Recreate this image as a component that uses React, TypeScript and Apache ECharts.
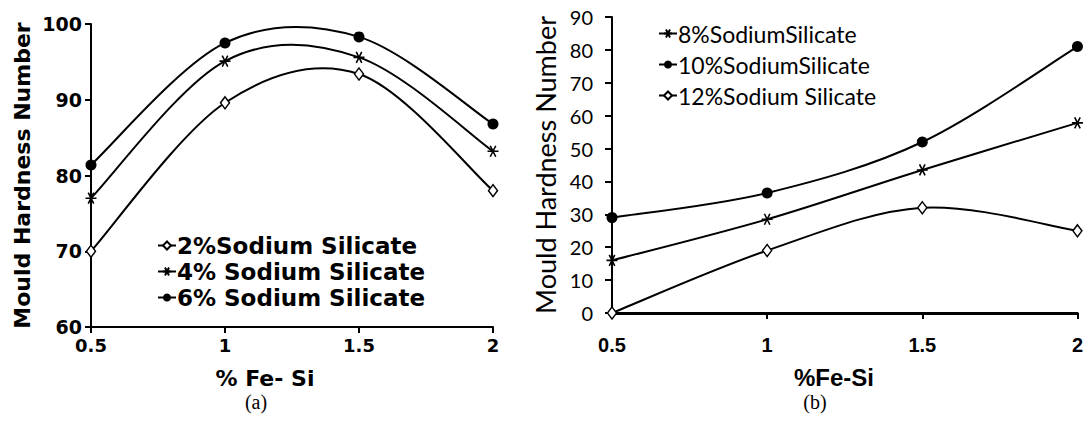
import React, { useEffect, useRef } from "react";
import * as echarts from "echarts";

const xValues = [0.5, 1, 1.5, 2];

const leftNames = ["2%Sodium Silicate", "4% Sodium Silicate", "6% Sodium Silicate"];
const left2 = [70, 89.6, 93.4, 78];
const left4 = [77, 95.1, 95.6, 83.2];
const left6 = [81.4, 97.5, 98.3, 86.8];

const rightNames = ["8%SodiumSilicate", "10%SodiumSilicate", "12%Sodium Silicate"];
const right8 = [16, 28.5, 43.5, 57.8];
const right10 = [29, 36.5, 52, 81];
const right12 = [0, 19, 32, 25];

const xTicks = ["0.5", "1", "1.5", "2"];

const STAR = "path://M-10,0L10,0M-5,-8.66L5,8.66M-5,8.66L5,-8.66";

const pairs = (ys: number[]) => xValues.map((x, i) => [x, ys[i]]);

const styles: Record<string, any> = {
  diamond: { symbol: "diamond", symbolSize: [9, 12], itemStyle: { color: "#fff", borderColor: "#000", borderWidth: 1.5 } },
  star: { symbol: STAR, symbolSize: 11, itemStyle: { color: "#000", borderColor: "#000", borderWidth: 1.6 } },
  circle: { symbol: "circle", symbolSize: 11, itemStyle: { color: "#000", borderColor: "#000", borderWidth: 0 } },
};

// marker + legend series (its own line hidden; the smooth curve is drawn by the custom series)
function mk(name: string, ys: number[], kind: string, idx: number) {
  return {
    name,
    type: "line",
    xAxisIndex: idx,
    yAxisIndex: idx,
    data: pairs(ys),
    showSymbol: true,
    z: 5,
    lineStyle: { color: "#000", width: 2, opacity: 0 },
    ...styles[kind],
  };
}

// Excel-like smoothed curve (Catmull-Rom through the data points, in pixel space)
function curve(ys: number[], idx: number, key: string) {
  const data = pairs(ys);
  return {
    name: key,
    type: "custom",
    coordinateSystem: "cartesian2d",
    xAxisIndex: idx,
    yAxisIndex: idx,
    data,
    encode: { x: 0, y: 1 },
    silent: true,
    z: 3,
    renderItem: (params: any, api: any) => {
      if (params.dataIndex !== 0) return null;
      const p = data.map((d) => api.coord(d));
      let d = `M${p[0][0]},${p[0][1]}`;
      for (let i = 0; i < p.length - 1; i++) {
        const p0 = p[i - 1] || p[i];
        const p1 = p[i];
        const p2 = p[i + 1];
        const p3 = p[i + 2] || p[i + 1];
        const c1x = p1[0] + (p2[0] - p0[0]) / 6;
        const c1y = p1[1] + (p2[1] - p0[1]) / 6;
        const c2x = p2[0] - (p3[0] - p1[0]) / 6;
        const c2y = p2[1] - (p3[1] - p1[1]) / 6;
        d += ` C${c1x},${c1y} ${c2x},${c2y} ${p2[0]},${p2[1]}`;
      }
      return {
        type: "path",
        shape: { pathData: d },
        style: { stroke: "#000", lineWidth: 2, fill: "none" },
      };
    },
  };
}

export default function App() {
  const ref = useRef<HTMLDivElement>(null);
  useEffect(() => {
    document.body.style.margin = "0";
    const chart = echarts.init(ref.current!, null, { renderer: "svg" });
    const boldL = { fontFamily: "DejaVu Sans", fontWeight: "bold", color: "#000" };
    chart.setOption({
      animation: false,
      backgroundColor: "#fff",
      grid: [
        { left: 91, top: 24, width: 402, height: 303 },
        { left: 612, top: 17, width: 467, height: 296 },
      ],
      xAxis: [
        {
          type: "value", gridIndex: 0, min: 0.5, max: 2, interval: 0.5,
          axisLine: { lineStyle: { color: "#000", width: 2 } },
          axisTick: { show: true, length: 6, lineStyle: { color: "#000", width: 2 } },
          axisLabel: { ...boldL, fontSize: 18, margin: 9, formatter: (v: number) => xTicks[xValues.indexOf(v)] ?? "" },
          splitLine: { show: false },
        },
        {
          type: "value", gridIndex: 1, min: 0.5, max: 2, interval: 0.5,
          axisLine: { lineStyle: { color: "#000", width: 3 } },
          axisTick: { show: true, length: 6, lineStyle: { color: "#000", width: 2 } },
          axisLabel: { fontFamily: "Liberation Sans", fontWeight: "bold", color: "#000", fontSize: 20, margin: 22, formatter: (v: number) => xTicks[xValues.indexOf(v)] ?? "" },
          splitLine: { show: false },
        },
      ],
      yAxis: [
        {
          type: "value", gridIndex: 0, min: 60, max: 100, interval: 10,
          name: "Mould Hardness Number", nameLocation: "middle", nameGap: 58,
          nameTextStyle: { ...boldL, fontSize: 22 },
          axisLine: { show: true, lineStyle: { color: "#000", width: 2 } },
          axisTick: { show: true, length: 6, lineStyle: { color: "#000", width: 2 } },
          axisLabel: { ...boldL, fontSize: 19, margin: 9 },
          splitLine: { show: false },
        },
        {
          type: "value", gridIndex: 1, min: 0, max: 90, interval: 10,
          name: "Mould Hardness Number", nameLocation: "middle", nameGap: 53,
          nameTextStyle: { fontFamily: "Lato", color: "#000", fontSize: 27 },
          axisLine: { show: true, lineStyle: { color: "#000", width: 2 } },
          axisTick: { show: true, length: 7, lineStyle: { color: "#000", width: 2 } },
          axisLabel: { fontFamily: "Lato", color: "#000", fontSize: 20, margin: 19 },
          splitLine: { show: false },
        },
      ],
      legend: [
        {
          data: leftNames, orient: "vertical", left: 152, top: 229, itemGap: 3,
          itemWidth: 18, itemHeight: 10,
          lineStyle: { color: "#000", width: 2, opacity: 1 },
          textStyle: { ...boldL, fontSize: 23, padding: [0, 0, 0, -4] },
        },
        {
          data: rightNames, orient: "vertical", left: 653, top: 17, itemGap: 8,
          itemWidth: 18, itemHeight: 10,
          lineStyle: { color: "#000", width: 2, opacity: 1 },
          textStyle: { fontFamily: "Lato", color: "#000", fontSize: 23, padding: [0, 0, 0, -4] },
        },
      ],
      graphic: [
        { type: "text", x: 265, y: 378, style: { text: "% Fe- Si", font: "bold 22px 'DejaVu Sans'", fill: "#000", align: "center", verticalAlign: "middle" } },
        { type: "text", x: 834, y: 377, style: { text: "%Fe-Si", font: "bold 24px 'Liberation Sans'", fill: "#000", align: "center", verticalAlign: "middle" } },
        { type: "text", x: 256, y: 402, style: { text: "(a)", font: "20px 'Liberation Serif'", fill: "#000", align: "center", verticalAlign: "middle" } },
        { type: "text", x: 815, y: 402, style: { text: "(b)", font: "20px 'Liberation Serif'", fill: "#000", align: "center", verticalAlign: "middle" } },
      ],
      series: [
        curve(left2, 0, "_c2"),
        curve(left4, 0, "_c4"),
        curve(left6, 0, "_c6"),
        curve(right8, 1, "_c8"),
        curve(right10, 1, "_c10"),
        curve(right12, 1, "_c12"),
        mk(leftNames[0], left2, "diamond", 0),
        mk(leftNames[1], left4, "star", 0),
        mk(leftNames[2], left6, "circle", 0),
        mk(rightNames[0], right8, "star", 1),
        mk(rightNames[1], right10, "circle", 1),
        mk(rightNames[2], right12, "diamond", 1),
      ],
    });
    return () => chart.dispose();
  }, []);
  return <div ref={ref} style={{ width: 1086, height: 421 }} />;
}
